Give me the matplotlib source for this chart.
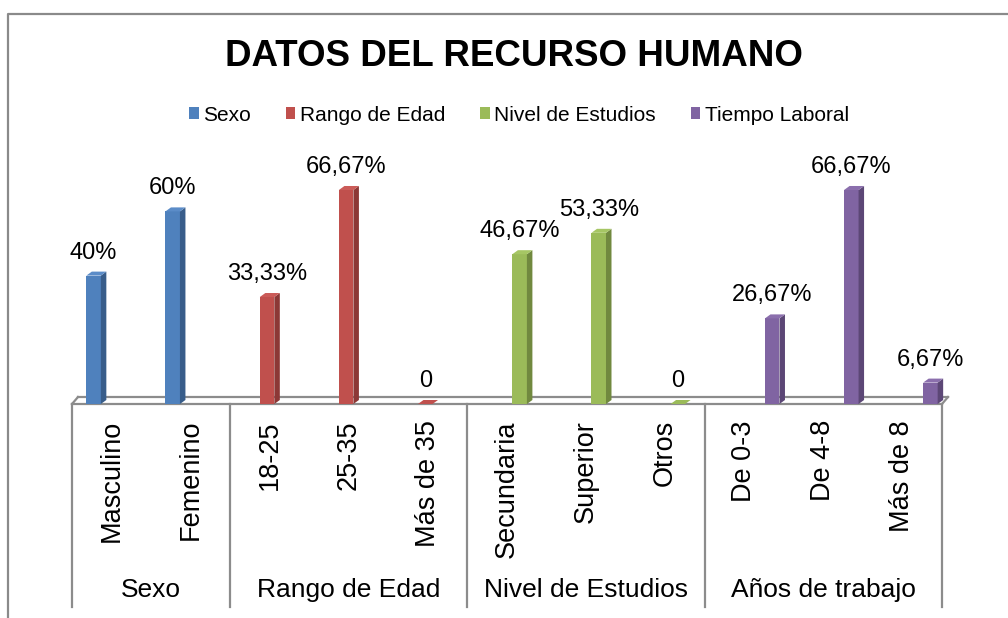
import matplotlib
matplotlib.use("Agg")
import matplotlib.pyplot as plt
from matplotlib.patches import Polygon, Patch
from matplotlib.lines import Line2D

plt.rcParams['font.family'] = ['Liberation Sans', 'DejaVu Sans']

# ---------------- data ----------------
title = "DATOS DEL RECURSO HUMANO"
categories = ["Masculino", "Femenino", "18-25", "25-35", "Más de 35",
              "Secundaria", "Superior", "Otros", "De 0-3", "De 4-8", "Más de 8"]
groups = ["Sexo", "Rango de Edad", "Nivel de Estudios", "Años de trabajo"]
group_sizes = [2, 3, 3, 3]
series_names = ["Sexo", "Rango de Edad", "Nivel de Estudios", "Tiempo Laboral"]
sexo = [40, 60]
rango_edad = [33.33, 66.67, 0]
nivel_estudios = [46.67, 53.33, 0]
tiempo_laboral = [26.67, 66.67, 6.67]
series_values = [sexo, rango_edad, nivel_estudios, tiempo_laboral]

front_colors = ["#4F81BD", "#C0504D", "#9BBB59", "#8064A2"]
side_colors = ["#385D8A", "#8C3836", "#71893F", "#5C4776"]
top_colors = ["#5B8CC8", "#CB5B58", "#A6C664", "#8B6FAD"]

# ---------------- figure ----------------
W, H = 1008, 618
fig = plt.figure(figsize=(W / 100, H / 100), dpi=100)

def fx(px):
    return px / W

def fy(py):
    return 1 - py / H

# chart frame (left + top visible)
fig.add_artist(Line2D([fx(8), fx(8), 1.0], [0.0, fy(14), fy(14)],
                      transform=fig.transFigure, color="#8a8a8a", lw=1.6))

ax_l, ax_r, ax_t, ax_b = 72, 942, 140, 404
ax = fig.add_axes([fx(ax_l), fy(ax_b), (ax_r - ax_l) / W, (ax_b - ax_t) / H])
px_per_x = (ax_r - ax_l) / 11.0
px_per_y = 3.21
ax.set_xlim(0, 11)
ax.set_ylim(0, (ax_b - ax_t) / px_per_y)
ax.axis("off")

# floor
fdx = 6 / px_per_x
fdy = 7 / px_per_y
floor_col = "#8c8c8c"
ax.plot([0, 11], [0, 0], color=floor_col, lw=1.6, clip_on=False, zorder=1)
ax.plot([fdx, 11 + fdx], [fdy, fdy], color=floor_col, lw=1.6, clip_on=False, zorder=1)
ax.plot([0, fdx], [0, fdy], color=floor_col, lw=1.6, clip_on=False, zorder=1)
ax.plot([11, 11 + fdx], [0, fdy], color=floor_col, lw=1.6, clip_on=False, zorder=1)

# bars
slot = 15.3 / px_per_x
shift = 5.0 / px_per_x
bw = 14.5 / px_per_x
ddx = 5.5 / px_per_x
ddy = 4 / px_per_y

start = 0
for s, vals in enumerate(series_values):
    for j, v in enumerate(vals):
        k = start + j
        xc = k + 0.5 + (s - 1.5) * slot + shift
        x0, x1 = xc - bw / 2, xc + bw / 2
        if v > 0:
            ax.bar(xc, v, width=bw, color=front_colors[s], zorder=3,
                   linewidth=0, clip_on=False)
            ax.add_patch(Polygon([(x1, 0), (x1 + ddx, ddy), (x1 + ddx, v + ddy), (x1, v)],
                                 closed=True, facecolor=side_colors[s], lw=0,
                                 zorder=3, clip_on=False))
        ax.add_patch(Polygon([(x0, v), (x0 + ddx, v + ddy), (x1 + ddx, v + ddy), (x1, v)],
                             closed=True, facecolor=top_colors[s] if v > 0 else front_colors[s],
                             lw=0, zorder=3, clip_on=False))
        if v == 0:
            lab = "0"
        else:
            lab = f"{v:.2f}".replace(".", ",")
            if lab.endswith(",00"):
                lab = lab[:-3]
            lab += "%"
        ax.annotate(lab, (xc, v), xytext=(0, 17), textcoords="offset pixels",
                    ha="center", va="baseline", fontsize=17, color="black",
                    annotation_clip=False)
    start += len(vals)

# category table
tb_top, tb_bot = 404, 607
tax = fig.add_axes([fx(ax_l), fy(tb_bot), (ax_r - ax_l) / W, (tb_bot - tb_top) / H])
tax.set_xlim(0, 11)
tax.set_ylim(tb_bot - tb_top, 0)
tax.axis("off")
bounds = [0]
for g in group_sizes:
    bounds.append(bounds[-1] + g)
for b in bounds:
    tax.plot([b, b], [0, tb_bot - tb_top], color=floor_col, lw=1.6, clip_on=False)
for k, c in enumerate(categories):
    tax.text(k + 0.5, 16, c, rotation=90, ha="center", va="top", fontsize=19.5)
for i, g in enumerate(groups):
    tax.text((bounds[i] + bounds[i + 1]) / 2, 186, g, ha="center", va="center", fontsize=19)

# title and legend
fig.text(fx(514), fy(57), title, ha="center", va="center", fontsize=26.5,
         fontweight="bold")
handles = [Patch(facecolor=c, edgecolor="none") for c in front_colors]
fig.legend(handles, series_names, loc="center", bbox_to_anchor=(fx(519), fy(115)),
           ncol=4, frameon=False, fontsize=15, handlelength=0.45, handleheight=0.45,
           handletextpad=0.2, columnspacing=1.7, borderaxespad=0)

fig.savefig("out.png", dpi=100)
